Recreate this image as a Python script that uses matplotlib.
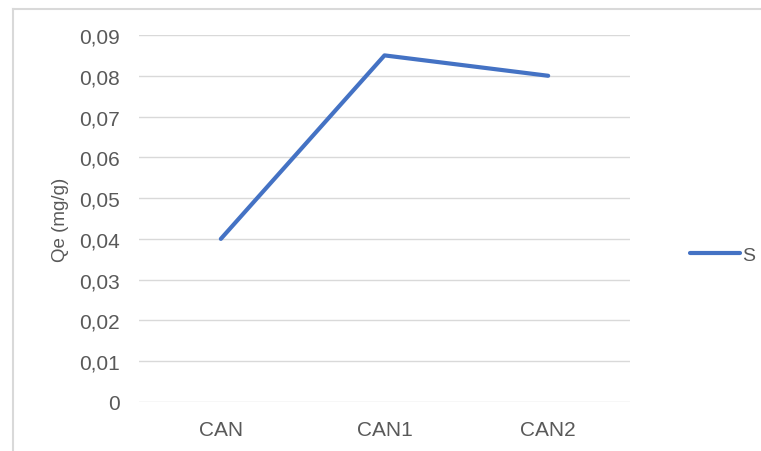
import matplotlib
matplotlib.use('Agg')
import matplotlib.pyplot as plt
from matplotlib.lines import Line2D
from matplotlib.ticker import MultipleLocator, FuncFormatter

# data
categories = ['CAN', 'CAN1', 'CAN2']
qe_values = [0.040, 0.085, 0.080]
series_name = 'S'

W, H = 761, 452
plt.rcParams['font.family'] = ['Liberation Sans', 'DejaVu Sans']

fig = plt.figure(figsize=(W / 100, H / 100), dpi=100)
ax = fig.add_axes([139 / W, 1 - 403 / H, (630 - 139) / W, (403 - 36) / H])

x = range(len(categories))
ax.plot(x, qe_values, color='#4472C4', lw=3, solid_capstyle='round',
        label=series_name)

ax.set_xlim(-0.5, len(categories) - 0.5)
ax.set_ylim(0, 0.09)
ax.yaxis.set_major_locator(MultipleLocator(0.01))
ax.yaxis.set_major_formatter(FuncFormatter(
    lambda v, p: '0' if abs(v) < 1e-9 else ('%.2f' % v).replace('.', ',')))
ax.set_xticks(list(x))
ax.set_xticklabels(categories)

ax.grid(axis='y', color='#D9D9D9', lw=1)
ax.set_axisbelow(True)
for s in ax.spines.values():
    s.set_visible(False)
ax.tick_params(length=0, labelsize=15, labelcolor='#595959')
ax.tick_params(axis='y', pad=14)
ax.tick_params(axis='x', pad=13)
ax.set_ylabel('Qe (mg/g)', fontsize=13.5, color='#595959', labelpad=7)

# legend on the right
handle = Line2D([], [], color='#4472C4', lw=3, solid_capstyle='round')
fig.legend([handle], [series_name], loc='center left',
           bbox_to_anchor=(682 / W, 1 - 256 / H), frameon=False,
           fontsize=14, labelcolor='#595959', handlelength=2.6,
           handletextpad=0.1, borderaxespad=0)

# chart frame (left and top edges visible in the crop)
fig.add_artist(Line2D([12.5 / W, 12.5 / W], [0, 1 - 10 / H],
                      transform=fig.transFigure, color='#D9D9D9', lw=1.5))
fig.add_artist(Line2D([12.5 / W, 1], [1 - 10 / H, 1 - 10 / H],
                      transform=fig.transFigure, color='#D9D9D9', lw=1.5))

fig.savefig('out.png', dpi=100)
